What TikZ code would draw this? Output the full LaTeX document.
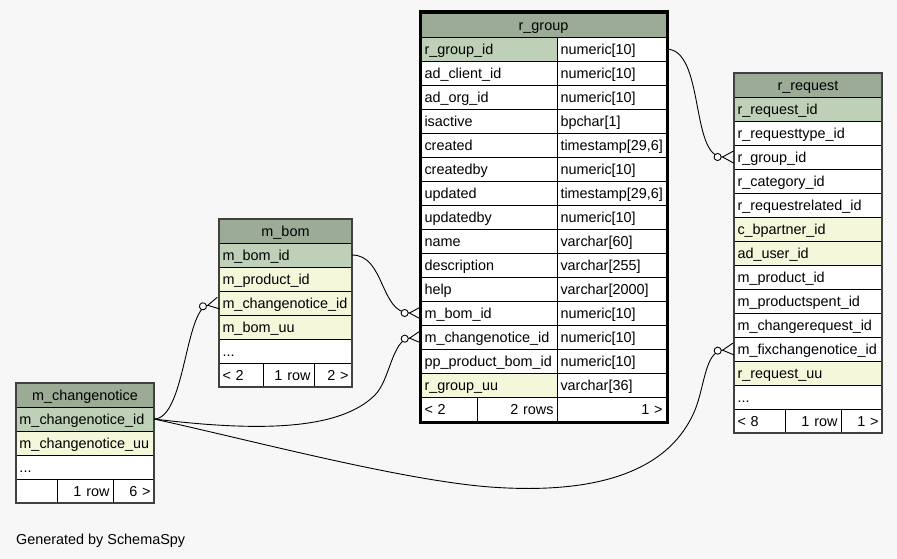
\documentclass[tikz,border=0pt]{standalone}
\usepackage{fontspec}
\setmainfont{Liberation Sans}
\usetikzlibrary{arrows.meta, positioning, calc}
\definecolor{canvas}{HTML}{F7F7F7}
\definecolor{heading}{HTML}{9BAB96}
\definecolor{primarykey}{HTML}{BED1B8}
\definecolor{indexed}{HTML}{F4F7DA}
\definecolor{tableframe}{HTML}{404040}
\tikzset{
    cell/.style={
        rectangle, draw=black, line width=0.8pt, fill=white, outer sep=0pt,
        inner xsep=3.5pt, inner ysep=0pt, minimum height=24pt,
        text height=10.3pt, text depth=0pt, align=left,
        font=\fontsize{14.4}{17}\selectfont
    },
    headcell/.style={cell, fill=heading, align=center},
    keycell/.style={cell, fill=primarykey},
    idxcell/.style={cell, fill=indexed},
    countcell/.style={cell, align=right},
    relation/.style={
        draw=black, line width=0.9pt,
        -{Circle[open, length=8pt, fill=white] Straight Barb[reversed, length=11pt, width=12pt]}
    }
}

\begin{document}
\begin{tikzpicture}[x=1pt, y=-1pt]
    \fill[canvas] (0,0) rectangle (897,559);
    \useasboundingbox (0,0) rectangle (897,559);

    % r_group
    \node[headcell, text width=238pt, anchor=north west] (gh) at (421,13) {r\_group};
    \node[keycell, text width=129pt, anchor=north west] (g1) at (gh.south west) {r\_group\_id};
    \node[cell, text width=102pt, right=0pt of g1] (t1) {numeric[10]};
    \node[cell, text width=129pt, below=0pt of g1] (g2) {ad\_client\_id};
    \node[cell, text width=102pt, right=0pt of g2] (t2) {numeric[10]};
    \node[cell, text width=129pt, below=0pt of g2] (g3) {ad\_org\_id};
    \node[cell, text width=102pt, right=0pt of g3] (t3) {numeric[10]};
    \node[cell, text width=129pt, below=0pt of g3] (g4) {isactive};
    \node[cell, text width=102pt, right=0pt of g4] (t4) {bpchar[1]};
    \node[cell, text width=129pt, below=0pt of g4] (g5) {created};
    \node[cell, text width=102pt, right=0pt of g5] (t5) {timestamp[29,6]};
    \node[cell, text width=129pt, below=0pt of g5] (g6) {createdby};
    \node[cell, text width=102pt, right=0pt of g6] (t6) {numeric[10]};
    \node[cell, text width=129pt, below=0pt of g6] (g7) {updated};
    \node[cell, text width=102pt, right=0pt of g7] (t7) {timestamp[29,6]};
    \node[cell, text width=129pt, below=0pt of g7] (g8) {updatedby};
    \node[cell, text width=102pt, right=0pt of g8] (t8) {numeric[10]};
    \node[cell, text width=129pt, below=0pt of g8] (g9) {name};
    \node[cell, text width=102pt, right=0pt of g9] (t9) {varchar[60]};
    \node[cell, text width=129pt, below=0pt of g9] (g10) {description};
    \node[cell, text width=102pt, right=0pt of g10] (t10) {varchar[255]};
    \node[cell, text width=129pt, below=0pt of g10] (g11) {help};
    \node[cell, text width=102pt, right=0pt of g11] (t11) {varchar[2000]};
    \node[cell, text width=129pt, below=0pt of g11] (g12) {m\_bom\_id};
    \node[cell, text width=102pt, right=0pt of g12] (t12) {numeric[10]};
    \node[cell, text width=129pt, below=0pt of g12] (g13) {m\_changenotice\_id};
    \node[cell, text width=102pt, right=0pt of g13] (t13) {numeric[10]};
    \node[cell, text width=129pt, below=0pt of g13] (g14) {pp\_product\_bom\_id};
    \node[cell, text width=102pt, right=0pt of g14] (t14) {numeric[10]};
    \node[idxcell, text width=129pt, below=0pt of g14] (g15) {r\_group\_uu};
    \node[cell, text width=102pt, right=0pt of g15] (t15) {varchar[36]};
    \node[cell, text width=49pt, anchor=north west] (gf1) at (g15.south west) {< 2};
    \node[countcell, text width=73pt, right=0pt of gf1] (gf2) {2 rows};
    \node[countcell, text width=102pt, right=0pt of gf2] (gf3) {1 >};
    \draw[line width=3pt] ($(gh.north west)+(-1pt,1pt)$) rectangle ($(gf3.south east)+(1pt,-1pt)$);

    % m_bom
    \node[headcell, text width=126pt, anchor=north west] (bh) at (219,219) {m\_bom};
    \node[keycell, text width=126pt, below=0pt of bh] (b1) {m\_bom\_id};
    \node[idxcell, text width=126pt, below=0pt of b1] (b2) {m\_product\_id};
    \node[idxcell, text width=126pt, below=0pt of b2] (b3) {m\_changenotice\_id};
    \node[idxcell, text width=126pt, below=0pt of b3] (b4) {m\_bom\_uu};
    \node[cell, text width=126pt, below=0pt of b4] (b5) {...};
    \node[cell, text width=37pt, anchor=north west] (bf1) at (b5.south west) {< 2};
    \node[countcell, text width=44pt, right=0pt of bf1] (bf2) {1 row};
    \node[countcell, text width=31pt, right=0pt of bf2] (bf3) {2 >};
    \draw[tableframe, line width=1.2pt] (bh.north west) rectangle (bf3.south east);

    % m_changenotice
    \node[headcell, text width=131pt, anchor=north west] (ch) at (16,383) {m\_changenotice};
    \node[keycell, text width=131pt, below=0pt of ch] (c1) {m\_changenotice\_id};
    \node[idxcell, text width=131pt, below=0pt of c1] (c2) {m\_changenotice\_uu};
    \node[cell, text width=131pt, below=0pt of c2] (c3) {...};
    \node[cell, text width=34pt, anchor=north west] (cf1) at (c3.south west) {};
    \node[countcell, text width=49pt, right=0pt of cf1] (cf2) {1 row};
    \node[countcell, text width=34pt, right=0pt of cf2] (cf3) {6 >};
    \draw[tableframe, line width=1.2pt] (ch.north west) rectangle (cf3.south east);

    % r_request
    \node[headcell, text width=141pt, anchor=north west] (qh) at (734,73) {r\_request};
    \node[keycell, text width=141pt, below=0pt of qh] (q1) {r\_request\_id};
    \node[cell, text width=141pt, below=0pt of q1] (q2) {r\_requesttype\_id};
    \node[cell, text width=141pt, below=0pt of q2] (q3) {r\_group\_id};
    \node[cell, text width=141pt, below=0pt of q3] (q4) {r\_category\_id};
    \node[cell, text width=141pt, below=0pt of q4] (q5) {r\_requestrelated\_id};
    \node[idxcell, text width=141pt, below=0pt of q5] (q6) {c\_bpartner\_id};
    \node[idxcell, text width=141pt, below=0pt of q6] (q7) {ad\_user\_id};
    \node[cell, text width=141pt, below=0pt of q7] (q8) {m\_product\_id};
    \node[cell, text width=141pt, below=0pt of q8] (q9) {m\_productspent\_id};
    \node[cell, text width=141pt, below=0pt of q9] (q10) {m\_changerequest\_id};
    \node[cell, text width=141pt, below=0pt of q10] (q11) {m\_fixchangenotice\_id};
    \node[idxcell, text width=141pt, below=0pt of q11] (q12) {r\_request\_uu};
    \node[cell, text width=141pt, below=0pt of q12] (q13) {...};
    \node[cell, text width=44pt, anchor=north west] (qf1) at (q13.south west) {< 8};
    \node[countcell, text width=49pt, right=0pt of qf1] (qf2) {1 row};
    \node[countcell, text width=34pt, right=0pt of qf2] (qf3) {1 >};
    \draw[tableframe, line width=1.2pt] (qh.north west) rectangle (qf3.south east);

    % relations
    \draw[relation] (t1.east) .. controls (705,49) and (690,157) .. (q3.west);
    \draw[relation] (b1.east) .. controls (385,255) and (380,313) .. (g12.west);
    \draw[relation] (c1.east) .. controls (185,419) and (185,310) .. (b3.west);
    \draw[relation] (c1.east) .. controls (260,432) and (340,430) .. (375,395)
        .. controls (390,380) and (392,340) .. (g13.west);
    \draw[relation] (c1.east) .. controls (250,440) and (400,480) .. (490,487)
        .. controls (600,495) and (670,470) .. (695,410)
        .. controls (705,385) and (705,352) .. (q11.west);

    \node[anchor=west, inner sep=0pt, text height=10.3pt, text depth=0pt,
        font=\fontsize{14.4}{17}\selectfont] (credit) at (16,539) {Generated by SchemaSpy};
\end{tikzpicture}
\end{document}
